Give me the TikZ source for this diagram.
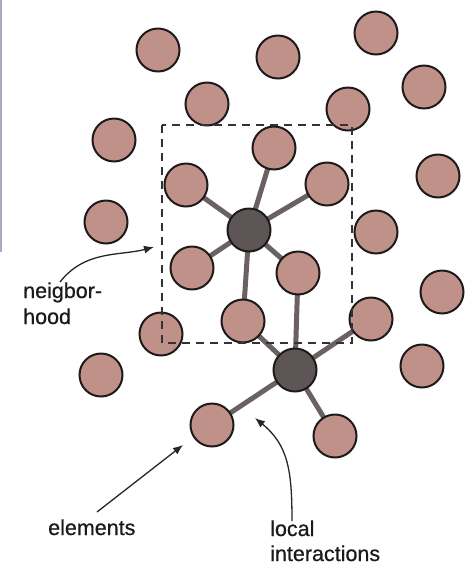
\documentclass[tikz,border=0pt]{standalone}
\usepackage{fontspec}
\setmainfont{Liberation Sans}
\newfontfamily\labelfont[FakeBold=0.6]{Liberation Sans}
\usetikzlibrary{arrows.meta,backgrounds}
\definecolor{elemfill}{HTML}{BF9189}
\definecolor{hubfill}{HTML}{5E5656}
\definecolor{outl}{HTML}{1E1A1A}
\definecolor{spokegray}{HTML}{6A6161}
\definecolor{labelgray}{HTML}{1A1A1A}
\definecolor{edgeline}{HTML}{A9A9C4}
\begin{document}
\begin{tikzpicture}[x=1pt,y=-1pt,
  elem/.style={circle,draw=outl,fill=elemfill,line width=2pt,minimum size=43pt,inner sep=0pt},
  hub/.style={elem,fill=hubfill},
  spoke/.style={draw=spokegray,line width=5pt},
  lbl/.style={font=\labelfont\fontsize{21.5}{26}\selectfont,anchor=base west,inner sep=0pt,text=labelgray},
  pointer/.style={draw=black!85,line width=1.3pt,-{Latex[length=10pt,width=8pt]}},
  hoodbox/.style={draw=black!80,line width=1.5pt,dash pattern=on 8pt off 6pt}]
\useasboundingbox (0,0) rectangle (470,566);
\draw[edgeline,line width=1.5pt] (0.75,0) -- (0.75,252);

% elements
\node[elem] (e1)  at (158,50) {};
\node[elem] (e2)  at (278,57) {};
\node[elem] (e3)  at (376,33) {};
\node[elem] (e4)  at (207,104) {};
\node[elem] (e5)  at (348,109) {};
\node[elem] (e6)  at (424,87) {};
\node[elem] (e7)  at (114,140) {};
\node[elem] (e8)  at (274,148) {};
\node[elem] (e9)  at (186,185) {};
\node[elem] (e10) at (327,184) {};
\node[elem] (e11) at (438,176) {};
\node[elem] (e12) at (106,222) {};
\node[elem] (e13) at (376,232) {};
\node[elem] (e14) at (192,268) {};
\node[elem] (e15) at (298,273) {};
\node[elem] (e16) at (442,292) {};
\node[elem] (e17) at (161,334) {};
\node[elem] (e18) at (243,321) {};
\node[elem] (e19) at (371,319) {};
\node[elem] (e20) at (101,375) {};
\node[elem] (e21) at (422,366) {};
\node[elem] (e22) at (212,425) {};
\node[elem] (e23) at (335,436) {};

% interacting centres
\node[hub] (h1) at (249,230) {};
\node[hub] (h2) at (295,370) {};

% local interactions
\begin{scope}[on background layer]
  \foreach \t in {e8,e10,e9,e14,e15,e18}
    \draw[spoke] (h1.center) -- (\t.center);
  \foreach \t in {e15,e18,e19,e22,e23}
    \draw[spoke] (h2.center) -- (\t.center);
\end{scope}

% neighbourhood
\draw[hoodbox] (162,125) rectangle (352,343);

% labels
\node[lbl] (nb1) at (23,298) {neigbor-};
\node[lbl] (nb2) at (23,324) {hood};
\node[lbl] (el)  at (48,535) {elements};
\node[lbl] (li1) at (270,536) {local};
\node[lbl] (li2) at (270,561) {interactions};

% pointers
\coordinate (nbTail) at (60,282);
\coordinate (nbTip)  at (154,247);
\coordinate (elTail) at (97,512);
\coordinate (elTip)  at (183,445);
\coordinate (liTail) at (292,521);
\coordinate (liTip)  at (255,418);
\draw[pointer] (nbTail) .. controls (85,250) and (120,256) .. (nbTip);
\draw[pointer] (elTail) -- (elTip);
\draw[pointer] (liTail) .. controls (292,470) and (288,445) .. (liTip);
\end{tikzpicture}
\end{document}
